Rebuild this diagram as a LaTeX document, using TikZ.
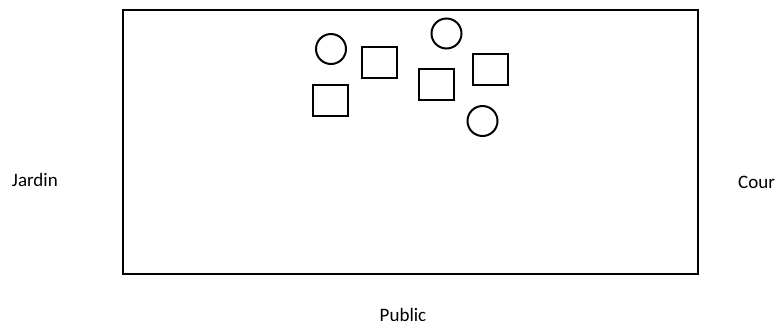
\documentclass[tikz,border=0pt]{standalone}
\usepackage{fontspec}
\setmainfont{Carlito}
\usepackage{tikz}
\usetikzlibrary{positioning}

\begin{document}
\begin{tikzpicture}[
  x=1pt, y=-1pt,
  every node/.style={font=\fontsize{19}{20}\selectfont},
  stage/.style={draw, line width=1.8pt, inner sep=0pt},
  actor/.style={draw, circle, line width=2pt, minimum size=30pt, inner sep=0pt},
  prop/.style={draw, rectangle, line width=2pt, minimum width=35pt, minimum height=31pt, inner sep=0pt},
  side/.style={inner sep=0pt}
]
\useasboundingbox (0,0) rectangle (781,325);
% plateau
\node[stage, minimum width=575pt, minimum height=264pt] (plateau) at (410.5,142) {};
% placement sur scene
\node[actor] (c1) at (331,49) {};
\node[actor] (c2) at (446.5,33.5) {};
\node[actor] (c3) at (482.5,121) {};
\node[prop] (s1) at (379,62) {};
\node[prop] (s2) at (330,100.5) {};
\node[prop] (s3) at (436,84) {};
\node[prop] (s4) at (490,69.5) {};
% cotes
\node[side, anchor=base east] (jardin) at (58,186) {Jardin};
\node[side, anchor=base west] (cour) at (738,188) {Cour};
\node[side, anchor=base] (public) at (403,321) {Public};
\end{tikzpicture}
\end{document}
